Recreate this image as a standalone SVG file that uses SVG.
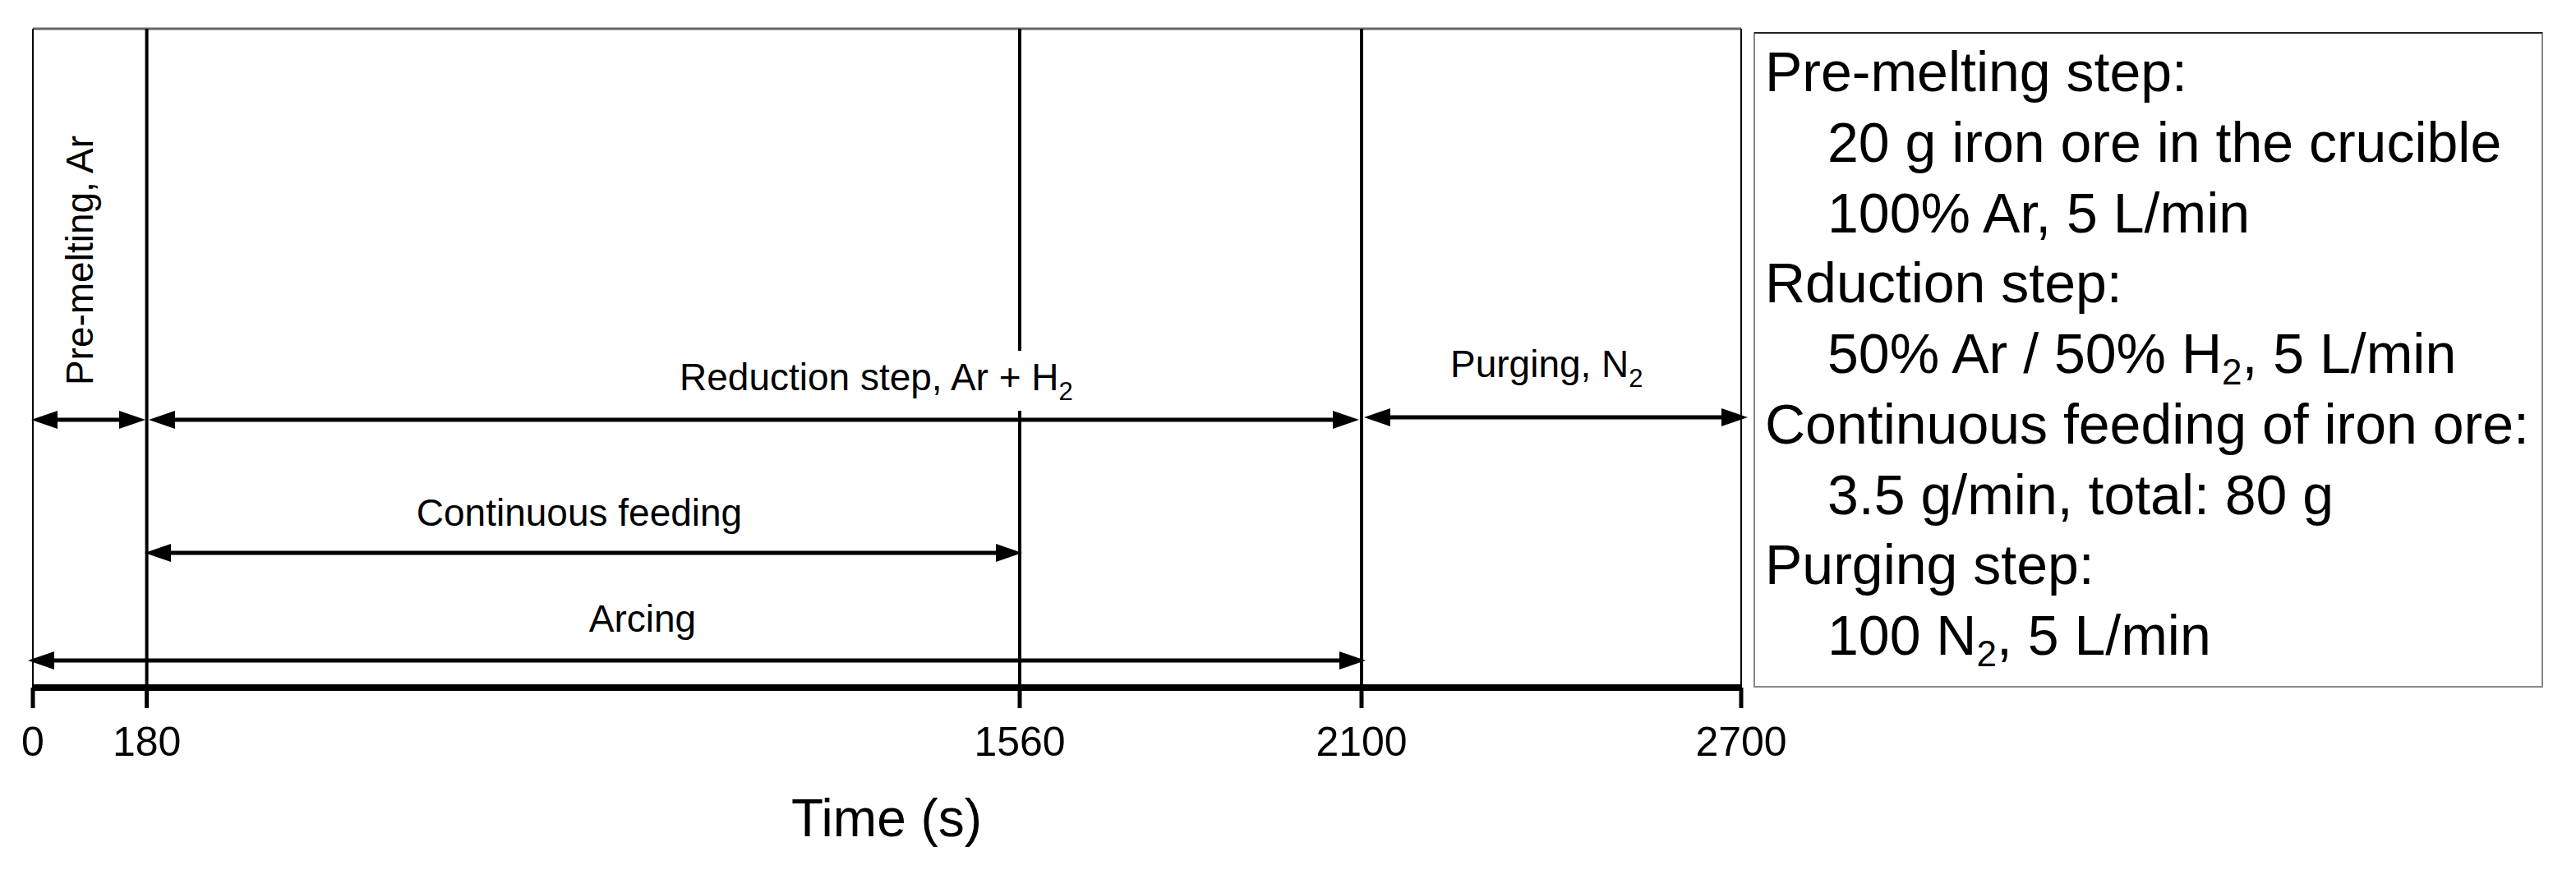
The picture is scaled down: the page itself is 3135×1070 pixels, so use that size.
<svg xmlns="http://www.w3.org/2000/svg" width="3135" height="1070" viewBox="0 0 3135 1070">
<style>
  .lbl { font-family: "Liberation Sans", Arial, sans-serif; font-size: 46px; fill: #000; }
  .tick { font-family: "Liberation Sans", Arial, sans-serif; font-size: 50px; fill: #000; text-anchor: middle; }
  .box { font-family: "Liberation Sans", Arial, sans-serif; font-size: 68px; fill: #000; }
  .vline { stroke: #000; stroke-width: 4; fill: none; }
  .thin { stroke: #000; stroke-width: 2; fill: none; }
  .arr { stroke: #000; stroke-width: 5; fill: none; marker-start: url(#ah); marker-end: url(#ah); }
</style>
<defs>
  <marker id="ah" markerUnits="userSpaceOnUse" markerWidth="32" markerHeight="22" refX="22" refY="11" orient="auto-start-reverse">
    <path d="M0,0 L32,11 L0,22 z" fill="#000"/>
  </marker>
</defs>
<rect width="3135" height="1070" fill="#fff"/>

<g id="frame">
  <line x1="40" y1="35" x2="2119" y2="35" stroke="#666" stroke-width="3"/>
  <line class="thin" x1="40" y1="35" x2="40" y2="862"/>
  <line class="thin" x1="2119" y1="35" x2="2119" y2="862"/>
  <line class="vline" x1="178.6" y1="35" x2="178.6" y2="862"/>
  <line class="vline" x1="1241" y1="35" x2="1241" y2="427"/>
  <line class="vline" x1="1241" y1="500" x2="1241" y2="862"/>
  <line class="vline" x1="1657" y1="35" x2="1657" y2="862"/>
</g>

<g id="axis">
  <line x1="40" y1="837" x2="2119" y2="837" stroke="#000" stroke-width="8"/>
  <g stroke="#000" stroke-width="5">
    <line x1="40" y1="837" x2="40" y2="862"/>
    <line x1="178.6" y1="837" x2="178.6" y2="862"/>
    <line x1="1241" y1="837" x2="1241" y2="862"/>
    <line x1="1657" y1="837" x2="1657" y2="862"/>
    <line x1="2119" y1="837" x2="2119" y2="862"/>
  </g>
  <text class="tick" x="40" y="920">0</text>
  <text class="tick" x="178.6" y="920">180</text>
  <text class="tick" x="1241" y="920">1560</text>
  <text class="tick" x="1657" y="920">2100</text>
  <text class="tick" x="2119" y="920">2700</text>
  <text x="1079" y="1018" font-family="Liberation Sans, Arial, sans-serif" font-size="64" text-anchor="middle">Time (s)</text>
</g>

<g id="connectors">
  <line class="arr" x1="48" y1="511" x2="167" y2="511"/>
  <line class="arr" x1="191" y1="511" x2="1644" y2="511"/>
  <line class="arr" x1="1670" y1="508" x2="2117" y2="508"/>
  <line class="arr" x1="186" y1="673" x2="1234" y2="673"/>
  <line class="arr" x1="44" y1="804" x2="1652" y2="804"/>
</g>

<g id="premelting">
  <text class="lbl" font-size="45" text-anchor="middle" transform="translate(113,317) rotate(-90)">Pre-melting, Ar</text>
</g>
<g id="reduction">
  <text class="lbl" x="827" y="475">Reduction step, Ar + H<tspan font-size="31" dy="12">2</tspan></text>
</g>
<g id="purging">
  <text class="lbl" x="1765" y="459">Purging, N<tspan font-size="31" dy="12">2</tspan></text>
</g>
<g id="feeding">
  <text class="lbl" x="705" y="640" text-anchor="middle">Continuous feeding</text>
</g>
<g id="arcing">
  <text class="lbl" x="782" y="769" text-anchor="middle">Arcing</text>
</g>

<g id="legend">
  <rect x="2135" y="40" width="959" height="796" fill="#fff" stroke="#888" stroke-width="2"/>
  <line x1="2135" y1="40" x2="3094" y2="40" stroke="#222" stroke-width="2"/>
  <text class="box" x="2148" y="111">Pre-melting step:</text>
  <text class="box" x="2224" y="197">20 g iron ore in the crucible</text>
  <text class="box" x="2224" y="283">100% Ar, 5 L/min</text>
  <text class="box" x="2148" y="368">Rduction step:</text>
  <text class="box" x="2224" y="454">50% Ar / 50% H<tspan font-size="44" dy="14">2</tspan><tspan dy="-14">, 5 L/min</tspan></text>
  <text class="box" x="2148" y="540">Continuous feeding of iron ore:</text>
  <text class="box" x="2224" y="626">3.5 g/min, total: 80 g</text>
  <text class="box" x="2148" y="711">Purging step:</text>
  <text class="box" x="2224" y="797">100 N<tspan font-size="44" dy="14">2</tspan><tspan dy="-14">, 5 L/min</tspan></text>
</g>
</svg>
